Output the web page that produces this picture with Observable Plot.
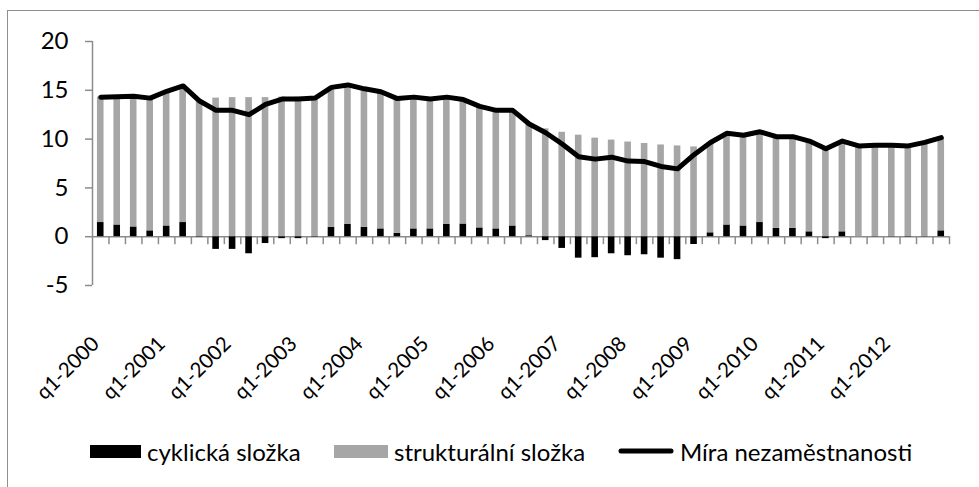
<!DOCTYPE html>
<html>
<head>
<meta charset="utf-8">
<script src="https://cdn.jsdelivr.net/npm/d3@7"></script>
<script src="https://cdn.jsdelivr.net/npm/@observablehq/plot@0.6"></script>
<style>
  html, body { margin: 0; padding: 0; background: #fff; }
  body { width: 979px; height: 487px; overflow: hidden; position: relative; font-family: Lato, "Open Sans", sans-serif; }
  #frame { position: absolute; left: 7px; top: 10px; width: 1000px; height: 500px; border-left: 1.5px solid #8e8e8e; border-top: 1.5px solid #8e8e8e; }
  #chart { position: absolute; left: 0; top: 0; }
  #legend { position: absolute; left: 0; top: 436px; width: 979px; height: 30px; font-size: 24px; color: #000; }
  .item { position: absolute; top: 0; height: 30px; display: flex; align-items: center; white-space: nowrap; }
  .sw { display: inline-block; margin-right: 6px; }
</style>
</head>
<body>
<div id="frame"></div>
<div id="chart"></div>
<div id="legend"></div>
<script>
// ---- data ----
const years = [2000, 2001, 2002, 2003, 2004, 2005, 2006, 2007, 2008, 2009, 2010, 2011, 2012];
const quarterNames = ["q1", "q2", "q3", "q4"];
const quarters = years.flatMap(y => quarterNames.map(q => `${q}-${y}`));
const tickLabels = years.map(y => `q1-${y}`);
const yTicks = [-5, 0, 5, 10, 15, 20];

const seriesNames = ["cyklická složka", "strukturální složka", "Míra nezaměstnanosti"];

const cyclic = [
  1.45, 1.2, 1.0, 0.6,
  1.1, 1.45, -0.05, -1.3,
  -1.3, -1.75, -0.7, -0.2,
  -0.2, -0.05, 0.95, 1.25,
  0.95, 0.8, 0.35, 0.8,
  0.8, 1.25, 1.3, 0.9,
  0.8, 1.1, 0.1, -0.4,
  -1.2, -2.2, -2.15, -1.75,
  -1.95, -1.85, -2.2, -2.35,
  -0.8, 0.4, 1.2, 1.1,
  1.45, 0.85, 0.85, 0.5,
  -0.2, 0.5, 0.0, 0.02,
  -0.03, -0.05, 0.02, 0.6
];
const structural = [
  12.85, 13.1, 13.4, 13.6,
  13.8, 14.0, 13.95, 14.2,
  14.25, 14.25, 14.25, 14.3,
  14.3, 14.25, 14.35, 14.3,
  14.2, 14.05, 13.8, 13.5,
  13.3, 13.05, 12.75, 12.45,
  12.15, 11.85, 11.45, 11.05,
  10.7, 10.4, 10.1, 9.9,
  9.7, 9.55, 9.4, 9.3,
  9.2, 9.25, 9.4, 9.3,
  9.3, 9.4, 9.4, 9.3,
  9.2, 9.3, 9.3, 9.35,
  9.4, 9.35, 9.65, 9.55
];
const rate = [
  14.3, 14.35, 14.4, 14.2,
  14.9, 15.45, 13.9, 12.95,
  12.95, 12.5, 13.55, 14.1,
  14.1, 14.2, 15.3, 15.55,
  15.15, 14.85, 14.15, 14.3,
  14.1, 14.3, 14.05, 13.35,
  12.95, 12.95, 11.55, 10.65,
  9.5, 8.2, 7.95, 8.15,
  7.75, 7.7, 7.2, 6.95,
  8.4, 9.65, 10.6, 10.4,
  10.75, 10.25, 10.25, 9.8,
  9.0, 9.8, 9.3, 9.37,
  9.37, 9.3, 9.67, 10.15
];

const barColors = ["#000000", "#a6a6a6"];
const axisColor = "#8c8c8c";

// ---- tables ----
const barData = quarters.flatMap((q, i) => [
  {q, s: seriesNames[0], v: cyclic[i]},
  {q, s: seriesNames[1], v: structural[i]}
]);
const lineData = quarters.map((q, i) => ({q, v: rate[i]}));

const W = 979, H = 420, ML = 92, MR = 30, MT = 41, MB = 135;
const step = (W - ML - MR) / quarters.length;
const FONT = "Lato, 'Open Sans', sans-serif";

const chart = Plot.plot({
  width: W, height: H,
  marginLeft: ML, marginRight: MR, marginTop: MT, marginBottom: MB,
  style: {fontFamily: FONT, fontSize: "24px", color: "#000", background: "transparent", overflow: "visible"},
  x: {type: "band", domain: quarters, paddingInner: 0.6, paddingOuter: 0.3, round: false, axis: null},
  y: {domain: [-5, 20], axis: null},
  color: {domain: seriesNames.slice(0, 2), range: barColors},
  marks: [
    Plot.ruleY([0], {stroke: axisColor, strokeWidth: 1.5}),
    Plot.ruleX(quarters, {x: d => d, y1: 0, y2: -0.82, dx: step / 2, stroke: axisColor, strokeWidth: 1.5}),
    Plot.ruleX([quarters[0]], {x: d => d, y1: -5, y2: 20, dx: -step / 2, stroke: axisColor, strokeWidth: 1.5}),
    Plot.axisY(yTicks, {tickSize: 7, tickPadding: 17, stroke: axisColor, strokeWidth: 1.5, fill: "#000", fontSize: 24, tickFormat: d => String(d), label: null}),
    Plot.barY(barData, {x: "q", y: "v", fill: "s"}),
    Plot.lineY(lineData, {x: "q", y: "v", stroke: "#000", strokeWidth: 5, strokeLinejoin: "round", strokeLinecap: "round"}),
    Plot.axisX(tickLabels, {anchor: "bottom", tickSize: 0, tickPadding: 55, dx: -5, tickRotate: -45, fontSize: 20.5, fill: "#000", stroke: "none", label: null})
  ]
});
document.getElementById("chart").appendChild(chart);

// ---- legend ----
const legend = document.getElementById("legend");
const items = [
  {label: seriesNames[0], left: 90, sw: `<span class="sw" style="width:51px;height:13px;background:${barColors[0]}"></span>`},
  {label: seriesNames[1], left: 334, sw: `<span class="sw" style="width:54px;height:13px;background:${barColors[1]}"></span>`},
  {label: seriesNames[2], left: 618, sw: `<svg class="sw" width="56" height="10"><line x1="3" y1="5" x2="53" y2="5" stroke="#000" stroke-width="5" stroke-linecap="round"/></svg>`}
];
for (const it of items) {
  const d = document.createElement("div");
  d.className = "item";
  d.style.left = it.left + "px";
  d.innerHTML = it.sw + `<span>${it.label}</span>`;
  legend.appendChild(d);
}
</script>
</body>
</html>
